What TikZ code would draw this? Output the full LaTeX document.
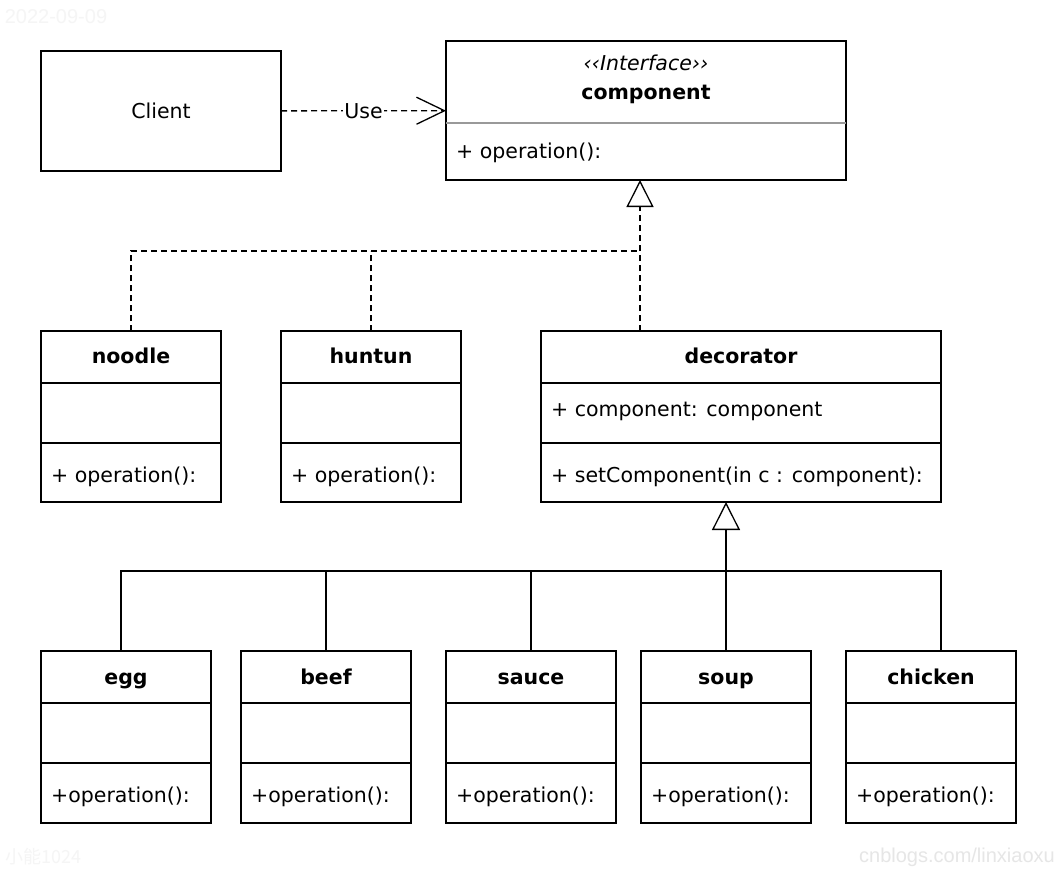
\documentclass[tikz,border=0pt]{standalone}
\usepackage{fontspec}
\setmainfont{DejaVu Sans}
\newfontfamily\markfont{Liberation Sans}
\newfontfamily\cjk{Noto Sans CJK SC}
\definecolor{umlgray}{RGB}{153,153,153}
\definecolor{marklight}{RGB}{245,245,245}
\definecolor{markgray}{RGB}{230,230,230}
\usetikzlibrary{arrows.meta,positioning,calc}

\begin{document}
\begin{tikzpicture}[x=1pt,y=-1pt,
  classbox/.style={draw,line width=1.5pt,inner sep=0pt,outer sep=0pt},
  classtitle/.style={font=\fontsize{20.5}{24}\selectfont\bfseries,text height=15pt,text depth=4pt},
  member/.style={font=\fontsize{20.5}{24}\selectfont,anchor=west,inner sep=0pt},
  divider/.style={line width=1.5pt},
  link/.style={line width=1.3pt},
  realize/.style={link,dash pattern=on 6pt off 4pt},
  watermark/.style={font=\markfont\fontsize{20}{24}\selectfont,inner sep=0pt}]
  \fill[white] (0,0) rectangle (1058,870);
  \useasboundingbox (0,0) rectangle (1058,870);

  % Client and interface
  \node[classbox,minimum width=240pt,minimum height=120pt,font=\fontsize{20.5}{24}\selectfont] (client) at (161,111) {Client};
  \node[classbox,minimum width=400pt,minimum height=139pt] (component) at (646,110.5) {};
  \node[font=\fontsize{20.5}{24}\selectfont\itshape] at (646,63) {‹‹Interface››};
  \node[classtitle] at (646,94) {component};
  \draw[divider,umlgray] ([yshift=-82pt]component.north west) -- ([yshift=-82pt]component.north east);
  \node[member] at ([xshift=10pt,yshift=27pt]component.south west) {+ operation():};
  \draw[realize,-{Straight Barb[length=28pt,width=27pt]}] (client) -- node[fill=white,inner sep=1pt,font=\fontsize{20.5}{24}\selectfont] {Use} (component);

  % Upper row
  \foreach \n/\x in {noodle/131, huntun/371} {
    \node[classbox,minimum width=180pt,minimum height=171pt] (\n) at (\x,416.5) {};
    \node[classtitle] at (\x,358) {\n};
    \draw[divider] ([yshift=-52pt]\n.north west) -- ([yshift=-52pt]\n.north east);
    \draw[divider] ([yshift=-112pt]\n.north west) -- ([yshift=-112pt]\n.north east);
    \node[member] at ([xshift=10pt,yshift=25pt]\n.south west) {+ operation():};
  }
  \node[classbox,minimum width=400pt,minimum height=171pt] (decorator) at (741,416.5) {};
  \node[classtitle] at (741,358) {decorator};
  \draw[divider] ([yshift=-52pt]decorator.north west) -- ([yshift=-52pt]decorator.north east);
  \draw[divider] ([yshift=-112pt]decorator.north west) -- ([yshift=-112pt]decorator.north east);
  \node[member] at ([xshift=10pt,yshift=91pt]decorator.south west) {+ component: component};
  \node[member] at ([xshift=10pt,yshift=25pt]decorator.south west) {+ setComponent(in c : component):};

  % Lower row
  \foreach \n/\x in {egg/126, beef/326, sauce/531, soup/726, chicken/931} {
    \node[classbox,minimum width=170pt,minimum height=172pt] (\n) at (\x,737) {};
    \node[classtitle] at (\x,679) {\n};
    \draw[divider] ([yshift=-52pt]\n.north west) -- ([yshift=-52pt]\n.north east);
    \draw[divider] ([yshift=-112pt]\n.north west) -- ([yshift=-112pt]\n.north east);
    \node[member] at ([xshift=10pt,yshift=26pt]\n.south west) {+operation():};
  }

  % Realization
  \coordinate (split) at (640,251);
  \draw[realize,-{Triangle[open,length=27pt,width=27pt]}] (decorator.north -| split) -- (component.south -| split);
  \draw[realize] (noodle.north) |- (split);
  \draw[realize] (huntun.north) -- (huntun.north |- split);

  % Inheritance
  \coordinate (fork) at (726,571);
  \draw[link,-{Triangle[open,length=28pt,width=28pt]}] (soup.north) -- (decorator.south -| soup.north);
  \draw[link] ([xshift=-5pt]egg.north) |- ([xshift=10pt]chicken.north |- fork) -- ([xshift=10pt]chicken.north);
  \foreach \n in {beef, sauce}
    \draw[link] (\n.north) -- (\n.north |- fork);

  % Watermarks
  \node[watermark,text=marklight] at (56,17) {2022-09-09};
  \node[watermark,text=marklight,font=\cjk\fontsize{18}{22}\selectfont,anchor=west] at (5,857) {小能1024};
  \node[watermark,text=markgray,anchor=east] at (1055,857) {cnblogs.com/linxiaoxu};
\end{tikzpicture}
\end{document}
